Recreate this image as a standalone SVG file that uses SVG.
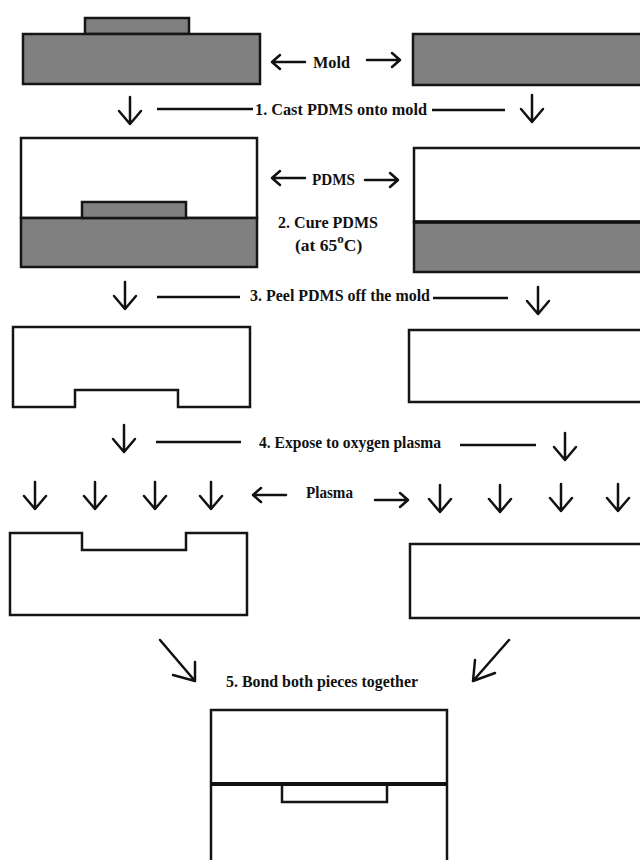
<svg xmlns="http://www.w3.org/2000/svg" width="640" height="860" viewBox="0 0 640 860">
<style>
.bg{fill:#ffffff}
.mold{fill:#808080;stroke:#151515;stroke-width:2.5}
.pdms{fill:#ffffff;stroke:#151515;stroke-width:2.5}
.thick{stroke:#111;stroke-width:3.5;fill:none}
.arr{fill:none;stroke:#111;stroke-width:2.5;stroke-linecap:round;stroke-linejoin:round}
.ln{stroke:#111;stroke-width:2.5;fill:none}
.t{font-family:"Liberation Serif","Times New Roman",serif;font-weight:bold;font-size:17.5px;fill:#111}
</style>
<defs>
<path id="down" d="M0,0 V27 M-11,14 L0,27 L11,14"/>
<path id="left" d="M0,0 H33 M8,-7 L0,0 L8,7"/>
<path id="right" d="M0,0 H33 M25,-7 L33,0 L25,7"/>
</defs>
<rect class="bg" x="0" y="0" width="640" height="860"/>

<g id="mold-left">
<rect class="mold" x="85" y="18" width="104" height="16"/>
<rect class="mold" x="23" y="34" width="237" height="50"/>
</g>
<g id="mold-right">
<rect class="mold" x="413" y="34" width="240" height="51"/>
</g>

<g id="cast-left">
<rect class="pdms" x="21" y="138" width="236" height="80"/>
<rect class="mold" x="21" y="218" width="236" height="49"/>
<rect class="mold" x="82" y="202" width="104" height="16"/>
</g>
<g id="cast-right">
<rect class="pdms" x="414" y="148" width="240" height="74"/>
<rect class="mold" x="414" y="222" width="240" height="50"/>
<line class="thick" x1="414" y1="222" x2="640" y2="222"/>
</g>

<g id="peel-left">
<path class="pdms" d="M13,327 H250 V407 H178 V390 H75 V407 H13 Z"/>
</g>
<g id="peel-right">
<rect class="pdms" x="409" y="330" width="245" height="72"/>
</g>

<g id="plasma-left">
<path class="pdms" d="M10,533 H82 V550 H186 V533 H247 V615 H10 Z"/>
</g>
<g id="plasma-right">
<rect class="pdms" x="410" y="544" width="245" height="74"/>
</g>

<g id="bonded">
<rect class="pdms" x="211" y="710" width="236" height="160"/>
<rect class="pdms" x="282" y="784" width="105" height="18"/>
<line class="thick" x1="211" y1="784" x2="447" y2="784" style="stroke-width:4"/>
</g>

<g id="labels">
<text class="t" x="313" y="68" textLength="37" lengthAdjust="spacingAndGlyphs">Mold</text>
<text class="t" x="255" y="115" textLength="172" lengthAdjust="spacingAndGlyphs">1. Cast PDMS onto mold</text>
<text class="t" x="312" y="185" textLength="43" lengthAdjust="spacingAndGlyphs">PDMS</text>
<text class="t" x="278" y="228" textLength="100" lengthAdjust="spacingAndGlyphs">2. Cure PDMS</text>
<text class="t" x="295" y="251">(at 65<tspan font-size="13" dy="-8">o</tspan><tspan dy="8">C)</tspan></text>
<text class="t" x="250" y="301" textLength="180" lengthAdjust="spacingAndGlyphs">3. Peel PDMS off the mold</text>
<text class="t" x="259" y="448" textLength="182" lengthAdjust="spacingAndGlyphs">4. Expose to oxygen plasma</text>
<text class="t" x="306" y="498" textLength="47" lengthAdjust="spacingAndGlyphs" style="font-size:16.5px">Plasma</text>
<text class="t" x="226" y="687" textLength="192" lengthAdjust="spacingAndGlyphs">5.  Bond both pieces together</text>
</g>

<g id="connectors">
<use href="#left" class="arr" x="272" y="62"/>
<use href="#right" class="arr" x="367" y="60"/>
<use href="#down" class="arr" x="130" y="97"/>
<line class="ln" x1="157" y1="109" x2="253" y2="109"/>
<line class="ln" x1="432" y1="110" x2="505" y2="110"/>
<use href="#down" class="arr" x="532" y="95"/>

<use href="#left" class="arr" x="272" y="178"/>
<use href="#right" class="arr" x="365" y="180"/>

<use href="#down" class="arr" x="125" y="282"/>
<line class="ln" x1="157" y1="297" x2="240" y2="297"/>
<line class="ln" x1="433" y1="298" x2="508" y2="298"/>
<use href="#down" class="arr" x="538" y="287"/>

<use href="#down" class="arr" x="124" y="425"/>
<line class="ln" x1="156" y1="442" x2="241" y2="442"/>
<line class="ln" x1="460" y1="445" x2="536" y2="445"/>
<use href="#down" class="arr" x="565" y="433"/>

<use href="#down" class="arr" x="35" y="482"/>
<use href="#down" class="arr" x="95" y="482"/>
<use href="#down" class="arr" x="155" y="482"/>
<use href="#down" class="arr" x="211" y="482"/>
<use href="#left" class="arr" x="253" y="495"/>
<use href="#right" class="arr" x="375" y="500"/>
<use href="#down" class="arr" x="440" y="485"/>
<use href="#down" class="arr" x="500" y="485"/>
<use href="#down" class="arr" x="561" y="484"/>
<use href="#down" class="arr" x="618" y="484"/>

<path class="arr" d="M160,640 L195,681 M173,675 L195,681 L195,662"/>
<path class="arr" d="M509,640 L473,681 M495,673 L473,681 L475,660"/>
</g>
</svg>
